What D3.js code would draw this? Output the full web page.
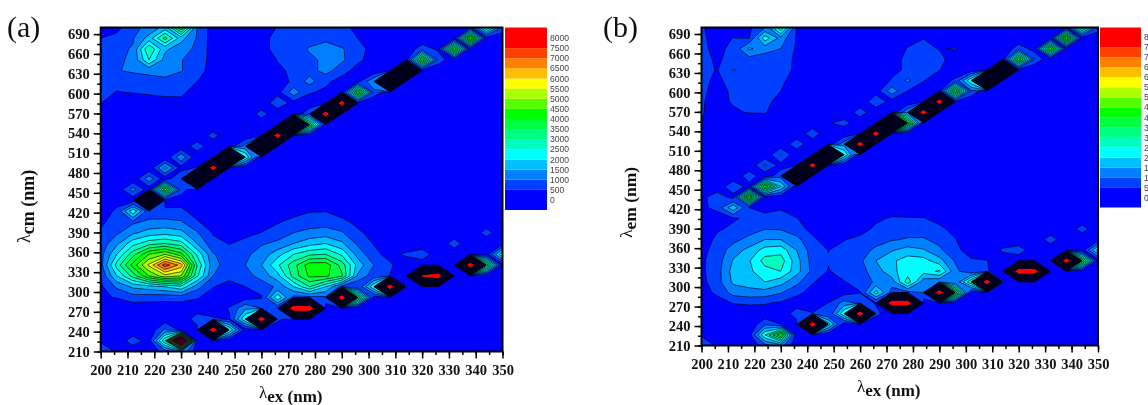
<!DOCTYPE html>
<meta charset="utf-8">
<style>
html, body { margin: 0; background: #fff; overflow: hidden; }
svg { display: block; filter: blur(0.35px); }
.tick-label { font: bold 14.5px "Liberation Serif", serif; fill: #111; }
.legend-label { font: 8.6px "Liberation Sans", sans-serif; fill: #444; }
.panel-label { font: 30px "Liberation Serif", serif; fill: #111; }
.axis-title { font: bold 17px "Liberation Serif", serif; fill: #111; }
.axis-title .lam { font-weight: normal; }
</style>
<body>
<script src="https://cdnjs.cloudflare.com/ajax/libs/d3/7.8.5/d3.min.js"></script>
<script>

// excitation / emission grid of the EEM scans
var exValues = [200,206,212,218,224,230,236,242,248,254,260,266,272,278,284,290,296,302,308,314,320,326,332,338,344,350];
var emValues = [210,226.3,242.7,259,275.3,291.7,308,324.3,340.7,357,373.3,389.7,406,422.3,438.7,455,471.3,487.7,504,520.3,536.7,553,569.3,585.7,602,618.3,634.7,651,667.3,683.7,700];

var exTicks = [200,210,220,230,240,250,260,270,280,290,300,310,320,330,340,350];
var emTicks = [210,240,270,300,330,360,390,420,450,480,510,540,570,600,630,660,690];
var legendTicks = [8000,7500,7000,6500,6000,5500,5000,4500,4000,3500,3000,2500,2000,1500,1000,500,0];

var fillLevels = [0,500,1000,1500,2000,2500,3000,3500,4000,4500,5000,5500,6000,6500,7000,7500];
var fillColors = ["#0000ff","#0040ff","#0080ff","#00bfff","#00ffff","#00ffbf","#00ff80","#00ff40","#00ff00","#55ff00","#aaff00","#ffff00","#ffbf00","#ff8000","#ff4000","#ff0000"];

// one row per emission value, one column per excitation value
var intensityA = [
[600,480,100,150,700,1500,150,80,60,50,50,50,50,50,50,50,50,50,50,50,50,50,50,50,50,50],
[480,120,800,250,3000,12000,200,100,80,60,50,50,50,50,50,50,50,50,50,50,50,50,50,50,50,50],
[80,80,80,100,1100,350,250,46000,2500,200,250,60,50,50,50,50,50,50,50,50,50,50,50,50,50,50],
[60,60,60,60,200,100,800,600,430,2500,46000,650,200,80,60,50,50,50,50,50,50,50,50,50,50,50],
[100,150,200,200,250,200,200,100,550,1400,1000,500,47000,47000,150,100,60,50,50,50,50,50,50,50,50,50],
[450,520,750,700,650,700,550,250,150,300,450,2400,800,800,900,46000,4000,250,100,60,50,50,50,50,50,50],
[400,1100,1600,1800,2000,2400,1200,520,300,500,700,1100,2000,3000,2000,800,500,2500,46000,550,100,60,50,50,50,50],
[550,2000,3200,4500,5300,5000,2600,1000,650,800,1200,1800,3200,4100,4100,3600,1400,700,480,150,38000,46000,100,80,60,60],
[800,2700,4200,5600,7300,6300,3000,1150,800,1000,1500,2400,3300,4300,4300,3300,1800,1000,600,100,120,100,90,46000,4000,200],
[800,2000,3300,4500,5000,4200,2400,1050,700,900,1200,1800,2500,2900,3000,2400,1300,650,300,600,850,150,100,150,200,2500],
[700,1400,2300,2800,3000,2700,1500,650,480,620,950,1100,1500,1800,2000,1600,900,470,100,60,60,60,800,60,60,300],
[550,900,1400,1700,1800,1650,1050,450,200,380,510,750,1000,1150,1200,1050,600,300,60,60,60,60,60,60,750,60],
[430,650,900,1100,1150,1050,550,250,100,150,250,450,650,750,800,650,350,100,50,50,50,50,50,50,50,50],
[200,600,2400,700,600,600,300,100,60,60,60,150,300,470,480,250,100,50,50,50,50,50,50,50,50,50],
[100,300,120,32000,300,300,150,80,60,50,50,50,50,50,50,50,50,50,50,50,50,50,50,50,50,50],
[100,100,1200,200,4500,700,100,80,60,50,50,50,50,50,50,50,50,50,50,50,50,50,50,50,50,50],
[80,80,100,1300,200,1000,32000,100,60,50,50,50,50,50,50,50,50,50,50,50,50,50,50,50,50,50],
[60,60,60,100,1700,300,550,46000,100,60,50,50,50,50,50,50,50,50,50,50,50,50,50,50,50,50],
[60,60,60,80,100,1400,100,200,32000,2500,100,60,50,50,50,50,50,50,50,50,50,50,50,50,50,50],
[60,60,60,60,60,100,800,100,200,1200,36000,100,60,50,50,50,50,50,50,50,50,50,50,50,50,50],
[60,60,60,60,60,60,100,700,60,100,200,46000,100,60,50,50,50,50,50,50,50,50,50,50,50,50],
[60,60,60,60,60,60,60,100,60,530,100,100,32000,4000,100,60,50,50,50,50,50,50,50,50,50,50],
[450,120,60,60,60,60,60,60,60,60,750,100,100,900,46000,100,60,50,50,50,50,50,50,50,50,50],
[520,150,200,300,350,340,150,60,60,60,60,900,300,150,200,46000,300,60,50,50,50,50,50,50,50,50],
[650,480,520,560,600,620,250,100,60,60,60,300,1300,550,400,200,4500,800,100,50,50,50,50,50,50,50],
[600,650,800,850,900,800,500,150,60,60,60,200,620,1200,600,300,350,1500,32000,100,50,50,50,50,50,50],
[600,980,1050,1100,1150,1020,800,200,60,60,60,400,600,800,1200,700,300,100,200,32000,150,50,50,50,50,50],
[600,900,1100,2500,1300,1020,800,300,60,60,100,520,650,900,1100,1100,600,300,100,100,4500,800,100,50,50,50],
[550,850,1050,3000,1600,1200,900,250,60,60,400,600,750,1050,1200,1050,700,300,100,100,800,400,4500,200,100,60],
[500,700,950,1700,3200,1700,950,250,60,60,400,600,800,800,900,700,500,100,60,60,100,100,300,5000,200,60],
[400,300,900,1100,1700,4000,1000,250,60,60,300,520,700,700,650,600,400,100,60,60,60,60,100,400,3000,900]
];

var intensityB = [
[600,480,80,100,800,1200,100,60,60,50,50,50,50,50,50,50,50,50,50,50,50,50,50,50,50,50],
[480,100,510,250,2500,4500,150,80,60,50,50,50,50,50,50,50,50,50,50,50,50,50,50,50,50,50],
[60,60,60,100,900,500,250,46000,2200,150,200,60,50,50,50,50,50,50,50,50,50,50,50,50,50,50],
[60,60,60,60,150,100,800,550,500,2500,46000,650,150,60,50,50,50,50,50,50,50,50,50,50,50,50],
[100,300,520,600,550,400,200,100,520,1200,900,450,47000,47000,150,100,60,50,50,50,50,50,50,50,50,50],
[300,600,1200,1300,1300,1050,650,300,150,300,480,2200,800,800,1000,46000,4500,200,150,60,50,50,50,50,50,50],
[350,800,1600,1750,2000,1700,1150,550,200,480,650,1100,1200,2800,1200,1000,1000,3000,46000,550,100,60,50,50,50,50],
[400,800,1700,1900,2300,2500,1700,850,470,680,850,1200,1900,2200,2200,2600,1150,600,550,150,47000,47000,80,60,50,50],
[420,750,1550,1950,2700,2750,1700,800,530,700,900,1500,1900,2250,2200,1700,950,560,520,100,100,80,60,46000,4000,200],
[350,700,1250,1650,2200,2300,1500,750,490,650,800,1100,1450,1700,1550,1100,620,300,80,600,800,100,60,100,200,2200],
[250,600,850,1150,1500,1500,1150,600,250,480,620,800,950,1050,1050,850,520,100,60,60,60,60,800,60,60,200],
[150,450,580,780,980,950,700,350,150,150,300,600,750,750,780,600,350,60,60,60,60,60,60,60,750,60],
[100,150,450,580,650,680,520,150,60,60,100,400,550,530,520,350,100,60,50,50,50,50,50,50,50,50],
[350,700,1900,500,350,450,150,60,60,50,50,50,200,250,200,100,50,50,50,50,50,50,50,50,50,50],
[350,800,300,5000,300,200,100,60,60,50,50,50,50,50,50,50,50,50,50,50,50,50,50,50,50,50],
[100,150,900,300,4500,2000,100,60,60,50,50,50,50,50,50,50,50,50,50,50,50,50,50,50,50,50],
[60,60,100,800,150,800,32000,100,60,50,50,50,50,50,50,50,50,50,50,50,50,50,50,50,50,50],
[60,60,60,100,1100,300,450,46000,100,60,50,50,50,50,50,50,50,50,50,50,50,50,50,50,50,50],
[60,60,60,60,100,1100,100,150,32000,2500,100,60,50,50,50,50,50,50,50,50,50,50,50,50,50,50],
[60,60,60,60,60,100,850,100,200,1300,46000,100,60,50,50,50,50,50,50,50,50,50,50,50,50,50],
[60,60,60,60,60,60,100,850,60,100,200,46000,100,60,50,50,50,50,50,50,50,50,50,50,50,50],
[510,300,60,60,60,60,60,100,450,700,100,100,35000,4500,100,60,50,50,50,50,50,50,50,50,50,50],
[530,350,430,530,550,150,60,60,60,60,800,100,100,1400,46000,100,60,50,50,50,50,50,50,50,50,50],
[540,350,550,600,650,300,60,60,60,60,60,950,250,100,200,46000,300,60,50,50,50,50,50,50,50,50],
[560,400,550,700,700,500,150,60,60,60,60,250,1300,480,300,200,4500,900,100,50,50,50,50,50,50,50],
[560,450,600,700,700,600,280,100,60,60,60,150,550,1100,520,200,600,2500,32000,100,50,50,50,50,50,50],
[600,480,1050,700,750,650,430,100,60,60,60,200,350,600,950,520,150,100,200,32000,150,50,50,50,50,50],
[600,450,620,800,750,750,400,100,60,60,60,100,350,600,620,620,300,60,60,100,4500,900,100,50,50,50],
[580,400,600,1600,1200,1000,420,100,60,60,60,60,300,520,600,480,530,100,60,60,800,300,4500,200,60,50],
[570,350,510,480,2300,1300,450,100,60,60,60,60,60,380,490,250,100,60,60,60,60,60,200,5000,200,60],
[550,300,100,400,1000,3000,480,100,60,60,60,60,60,60,60,60,60,60,60,60,60,60,60,300,3500,800]
];

var width = 1148, height = 405;
var lineTop = 34000;   // isolines stop here, anything above shows up red

var svg = d3.select("body").append("svg")
    .attr("width", width)
    .attr("height", height);

function drawPanel(p) {
  var x = d3.scaleLinear().domain([200, 350]).range([p.left, p.right]);
  var y = d3.scaleLinear().domain([210, 700]).range([p.bottom, p.top]);
  // d3.contours puts the node of cell i at i + 0.5
  var gridX = d3.scaleLinear().domain([0.5, exValues.length - 0.5]).range([x(exValues[0]), x(exValues[exValues.length - 1])]);
  var gridY = d3.scaleLinear().domain([0.5, emValues.length - 0.5]).range([y(emValues[0]), y(emValues[emValues.length - 1])]);

  var path = d3.geoPath(d3.geoTransform({
    point: function(px, py) { this.stream.point(gridX(px), gridY(py)); }
  }));

  var flat = p.rows.reduce(function(a, r) { return a.concat(r); }, []);
  var contours = d3.contours().size([exValues.length, emValues.length]);

  var g = svg.append("g");

  svg.append("clipPath")
      .attr("id", "clip" + p.id)
    .append("rect")
      .attr("x", p.left)
      .attr("y", p.top)
      .attr("width", p.right - p.left)
      .attr("height", p.bottom - p.top);

  var plot = g.append("g").attr("clip-path", "url(#clip" + p.id + ")");

  plot.selectAll(".band")
      .data(contours.thresholds(fillLevels)(flat))
    .enter().append("path")
      .attr("class", "band")
      .attr("d", path)
      .attr("fill", function(d, i) { return fillColors[i]; });

  plot.selectAll(".iso")
      .data(contours.thresholds(d3.range(500, lineTop + 1, 500))(flat))
    .enter().append("path")
      .attr("class", "iso")
      .attr("d", path)
      .attr("fill", "none")
      .attr("stroke", "#000020")
      .attr("stroke-width", 0.65);

  g.append("rect")
      .attr("x", p.left)
      .attr("y", p.top)
      .attr("width", p.right - p.left)
      .attr("height", p.bottom - p.top)
      .attr("fill", "none")
      .attr("stroke", "#000")
      .attr("stroke-width", 2);

  // minor ticks first, then the labelled ones
  var xAxis = d3.axisBottom(x).tickValues(d3.range(200, 351, 5)).tickSize(3.5).tickFormat("");
  var xMajor = d3.axisBottom(x).tickValues(exTicks).tickSize(7).tickPadding(6).tickFormat(d3.format("d"));
  var yAxis = d3.axisLeft(y).tickValues(d3.range(210, 700, 15)).tickSize(3.5).tickFormat("");
  var yMajor = d3.axisLeft(y).tickValues(emTicks).tickSize(7).tickPadding(4).tickFormat(d3.format("d"));

  [[xAxis, "x"], [xMajor, "x"], [yAxis, "y"], [yMajor, "y"]].forEach(function(a) {
    var ax = g.append("g")
        .attr("transform", a[1] == "x" ? "translate(0," + p.bottom + ")" : "translate(" + p.left + ",0)")
        .call(a[0]);
    ax.select(".domain").remove();
    ax.selectAll("line").attr("stroke", "#000").attr("stroke-width", 1.5);
    ax.selectAll("text").attr("class", "tick-label").attr("fill", null);
  });

  // colour key
  var ky = d3.scaleLinear().domain([0, 8000]).range([p.keyZero, p.keyTop]);
  var key = g.append("g");
  key.selectAll("rect")
      .data(fillLevels)
    .enter().append("rect")
      .attr("x", p.keyLeft)
      .attr("width", p.keyRight - p.keyLeft)
      .attr("y", function(d, i) { return i == fillLevels.length - 1 ? p.top : ky(d + 500); })
      .attr("height", function(d, i) {
        if (i == fillLevels.length - 1) return ky(d) - p.top;
        if (i == 0) return p.keyBottom - ky(500);
        return ky(d) - ky(d + 500);
      })
      .attr("fill", function(d, i) { return fillColors[i]; });
  key.selectAll("text")
      .data(legendTicks)
    .enter().append("text")
      .attr("class", "legend-label")
      .attr("x", p.keyRight + 3)
      .attr("y", function(d) { return ky(d) + 3; })
      .text(function(d) { return d; });

  svg.append("text")
      .attr("class", "panel-label")
      .attr("x", p.labelX)
      .attr("y", 37)
      .text(p.label);

  var xt = svg.append("text")
      .attr("class", "axis-title")
      .attr("x", p.xTitle[0])
      .attr("y", p.xTitle[1]);
  xt.append("tspan").attr("class", "lam").attr("dy", -4).text("λ");
  xt.append("tspan").attr("dy", 4).text("ex (nm)");

  var yt = svg.append("text")
      .attr("class", "axis-title")
      .style("font-size", p.yTitleSize + "px")
      .attr("transform", "translate(" + p.yTitle[0] + "," + p.yTitle[1] + ") rotate(-90)");
  yt.append("tspan").attr("class", "lam").attr("dy", -4).text("λ");
  yt.append("tspan").attr("dy", 4).text(p.yName + " (nm)");
}

drawPanel({
  id: "a", label: "(a)", rows: intensityA, yName: "cm", yTitleSize: 18,
  left: 100.7, right: 502.5, top: 27.5, bottom: 351.5,
  keyLeft: 505, keyRight: 547, keyTop: 38, keyZero: 200, keyBottom: 210,
  labelX: 7, xTitle: [259, 402], yTitle: [34, 243]
});

drawPanel({
  id: "b", label: "(b)", rows: intensityB, yName: "em", yTitleSize: 17.5,
  left: 701.5, right: 1098, top: 27.5, bottom: 345.5,
  keyLeft: 1100, keyRight: 1141, keyTop: 37, keyZero: 198, keyBottom: 207.5,
  labelX: 603, xTitle: [857, 396], yTitle: [636, 238]
});

</script>
</body>
